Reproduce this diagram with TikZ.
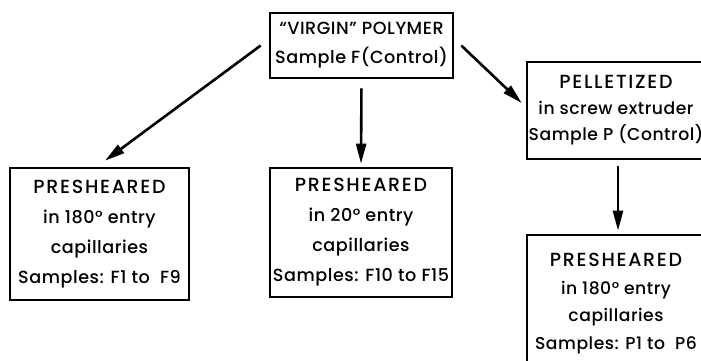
\documentclass[tikz,border=0pt]{standalone}
\usepackage{fontspec}
\setmainfont{Poppins Medium}[LetterSpace=3]
\newfontfamily\capsfont{Poppins Medium}[LetterSpace=9]
\newcommand{\caps}[1]{{\capsfont\fontsize{9.5}{15}\selectfont #1}}
\usepackage{tikz}
\usetikzlibrary{arrows.meta,positioning,calc}

\begin{document}
\begin{tikzpicture}[x=0.5pt,y=-0.5pt,
    box/.style={rectangle, draw=black, line width=1.3pt, align=center, inner sep=0pt,
                font=\fontsize{8.8}{15}\selectfont},
    arr/.style={-{Triangle[length=10pt,width=5pt]}, line width=1.3pt}
]
    \useasboundingbox (0,0) rectangle (701,360);

    \node[box, minimum width=91.5pt, minimum height=32.5pt, font=\fontsize{8.8}{14.5}\selectfont]
        (virgin) at (361.5,45.5) {``VIRGIN'' POLYMER\\Sample F(Control)};
    \node[box, minimum width=89.5pt, minimum height=66pt]
        (presF) at (99.5,234) {\caps{PRESHEARED}\\in 180° entry\\capillaries\\Samples: F1 to\ \ F9};
    \node[box, minimum width=91pt, minimum height=64.5pt]
        (presFb) at (361,232.5) {\caps{PRESHEARED}\\in 20° entry\\capillaries\\Samples: F10 to F15};
    \node[box, minimum width=89pt, minimum height=48.5pt, font=\fontsize{8.6}{13}\selectfont]
        (pellet) at (616,110.5) {\caps{PELLETIZED}\\in screw extruder\\Sample P (Control)};
    \node[box, minimum width=89pt, minimum height=68.5pt, font=\fontsize{8.6}{13.8}\selectfont]
        (presP) at (616,303.5) {\caps{PRESHEARED}\\in 180° entry\\capillaries\\Samples: P1 to\ \ P6};

    \draw[arr] ([xshift=-4pt]virgin.west) -- ([xshift=2.75pt,yshift=3pt]presF.north);
    \draw[arr, shorten <=4.5pt, shorten >=1.5pt] (virgin.south) -- (presFb.north);
    \draw[arr] ([xshift=3.5pt]virgin.east) -- ([xshift=-2pt,yshift=3.75pt]pellet.west);
    \draw[arr, shorten <=3pt, shorten >=1.5pt] ([xshift=1pt]pellet.south) -- ([xshift=1pt]presP.north);
\end{tikzpicture}
\end{document}
